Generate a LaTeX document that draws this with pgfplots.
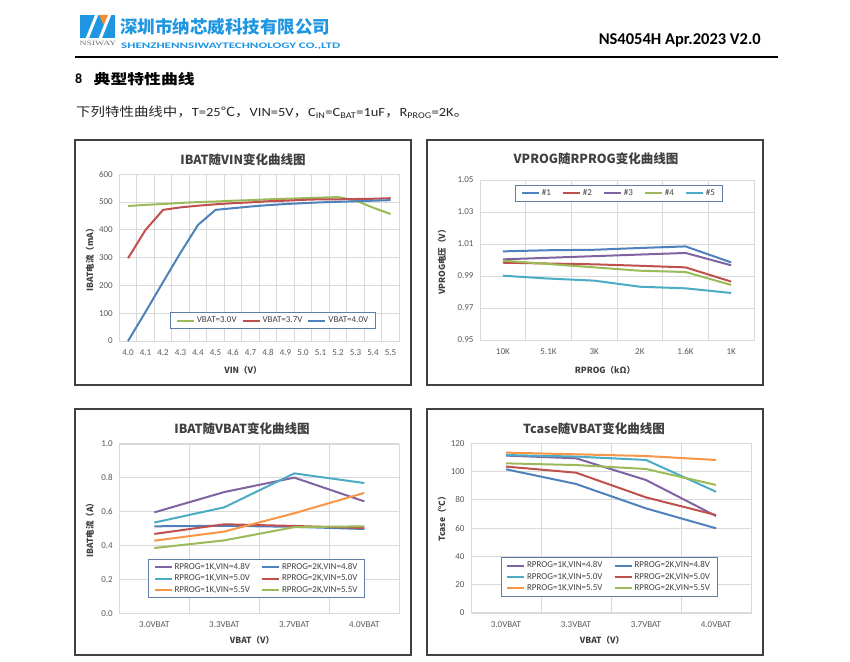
\documentclass[border=0pt]{standalone}
\usepackage{graphicx}
\usepackage{pgfplots}
\pgfplotsset{compat=1.18}
\usepackage{fontspec}
\setmainfont{Carlito}
\newfontfamily\cjk{Noto Sans CJK SC}
\newfontfamily\serif{Liberation Serif}

\definecolor{xblue}{RGB}{79,129,189}
\definecolor{xred}{RGB}{192,80,77}
\definecolor{xgreen}{RGB}{155,187,89}
\definecolor{xpurple}{RGB}{128,100,162}
\definecolor{xcyan}{RGB}{75,172,198}
\definecolor{xorange}{RGB}{247,150,70}
\definecolor{gridc}{RGB}{217,217,217}
\definecolor{txt}{RGB}{89,89,89}
\definecolor{ttl}{RGB}{64,64,64}
\definecolor{logob}{RGB}{30,150,225}
\definecolor{logoo}{RGB}{240,140,50}
\definecolor{legb}{RGB}{95,125,165}

\pgfplotsset{
  xlchart/.style={
    scale only axis,
    axis line style={draw=gridc},
    grid style={draw=gridc, line width=0.8pt},
    ymajorgrids, xminorgrids,
    major tick length=0pt, minor tick length=0pt,
    tick style={draw=none},
    ticklabel style={font=\fontsize{9}{10}\selectfont, text=txt},
    xticklabel style={yshift=-5pt},
    yticklabel style={xshift=-3pt},
    /pgf/number format/assume math mode=true,
    every axis plot/.append style={line width=2pt, mark=none},
    legend style={draw=legb, line width=0.8pt, font=\fontsize{9}{10}\selectfont,
      text=ttl, inner xsep=5pt, inner ysep=2pt,
      /tikz/every even column/.append style={column sep=9pt}},
    legend image code/.code={\draw[#1, line width=2pt] (0pt,0pt) -- (17pt,0pt);},
    legend cell align=left,
  },
}
\tikzset{
  titlef/.style={font=\cjk\bfseries\fontsize{12.5}{13}\selectfont, text=ttl},
  labf/.style={font=\cjk\bfseries\fontsize{8.5}{9}\selectfont, text=ttl},
}

\begin{document}
\begin{tikzpicture}
\path[use as bounding box] (0pt,0pt) rectangle (850pt,-661pt);
\fill[white] (0pt,0pt) rectangle (850pt,-661pt);

% header
\fill[logob] (80pt,-15pt) rectangle (115pt,-38pt);
\fill[logoo] (99pt,-15pt) -- (111pt,-15pt) -- (105pt,-28pt) -- cycle;
\draw[white, line width=3pt] (87pt,-39pt) -- (97pt,-14pt);
\draw[white, line width=3pt] (100pt,-39pt) -- (110pt,-14pt);
\node[anchor=center, inner sep=0pt, text=black!55] at (98pt,-43.5pt)
  {\resizebox{37pt}{\height}{\serif\fontsize{6.5}{7}\selectfont NSIWAY}};
\node[anchor=west, inner sep=0pt, text=logob] at (120pt,-26.5pt)
  {\resizebox{210pt}{\height}{\cjk\bfseries\fontsize{17.5}{18}\selectfont 深圳市纳芯威科技有限公司}};
\node[anchor=west, inner sep=0pt, text=logob] at (121pt,-46.5pt)
  {\resizebox{219pt}{\height}{\bfseries\fontsize{8.5}{9}\selectfont SHENZHENNSIWAYTECHNOLOGY CO.,LTD}};
\node[anchor=east, inner sep=0pt] at (761pt,-40pt)
  {\bfseries\fontsize{16.5}{17}\selectfont NS4054H Apr.2023 V2.0};
\draw[line width=2.2pt] (75pt,-57pt) -- (778pt,-57pt);
\node[anchor=west, inner sep=0pt] at (75pt,-79pt) {\bfseries\fontsize{14}{14}\selectfont 8};
\node[anchor=west, inner sep=0pt] at (93.5pt,-79pt)
  {\resizebox{101pt}{\height}{\cjk\bfseries\fontsize{14}{14}\selectfont 典型特性曲线}};
\node[anchor=west, inner sep=0pt, text=black!85] at (76pt,-112pt)
  {\resizebox{392pt}{\height}{\fontsize{12.5}{13}\selectfont{\cjk 下列特性曲线中，}T=25{\cjk ℃，}VIN=5V{\cjk ，}C\textsubscript{IN}=C\textsubscript{BAT}=1uF{\cjk ，}R\textsubscript{PROG}=2K{\cjk 。}}};

% chart frames
\draw[draw=black!75, line width=1.3pt] (75pt,-140pt) rectangle (411pt,-385pt);
\draw[draw=black!75, line width=1.3pt] (427pt,-140pt) rectangle (763pt,-385pt);
\draw[draw=black!75, line width=1.3pt] (75pt,-409pt) rectangle (411pt,-655pt);
\draw[draw=black!75, line width=1.3pt] (427pt,-409pt) rectangle (763pt,-655pt);

% chart 1
\begin{axis}[xlchart, at={(119.3pt,-341pt)}, anchor=south west,
  width=280pt, height=166.7pt,
  xmin=3.95, xmax=5.55, ymin=0, ymax=600,
  ytick={0,100,200,300,400,500,600},
  xtick={4.0,4.1,4.2,4.3,4.4,4.5,4.6,4.7,4.8,4.9,5.0,5.1,5.2,5.3,5.4,5.5},
  xticklabels={4.0,4.1,4.2,4.3,4.4,4.5,4.6,4.7,4.8,4.9,5.0,5.1,5.2,5.3,5.4,5.5},
  minor xtick={3.95,4.05,4.15,4.25,4.35,4.45,4.55,4.65,4.75,4.85,4.95,5.05,5.15,5.25,5.35,5.45,5.55},
  legend style={at={(0.549,0.123)}, anchor=center, legend columns=3,
    /tikz/every even column/.append style={column sep=3pt}},
]
\addplot[xgreen] table {
x y
4.0 486
4.1 490
4.2 493
4.3 497
4.4 500
4.5 502
4.6 505
4.7 507
4.8 510
4.9 512
5.0 514
5.1 516
5.2 518
5.3 506
5.4 480
5.5 457
};
\addlegendentry{VBAT=3.0V}
\addplot[xred] table {
x y
4.0 298
4.1 400
4.2 472
4.3 481
4.4 487
4.5 492
4.6 496
4.7 499
4.8 503
4.9 505
5.0 508
5.1 510
5.2 510
5.3 511
5.4 512
5.5 514
};
\addlegendentry{VBAT=3.7V}
\addplot[xblue] table {
x y
4.0 0
4.1 105
4.2 212
4.3 318
4.4 418
4.5 472
4.6 478
4.7 484
4.8 489
4.9 493
5.0 496
5.1 499
5.2 501
5.3 503
5.4 505
5.5 507
};
\addlegendentry{VBAT=4.0V}
\end{axis}
\node[titlef] at (243pt,-160pt) {IBAT随VIN变化曲线图};
\node[labf, rotate=90] at (90pt,-258pt) {IBAT电流（mA）};
\node[labf] at (243pt,-370pt) {VIN（V）};

% chart 2
\begin{axis}[xlchart, at={(480pt,-340pt)}, anchor=south west,
  width=274pt, height=160pt,
  xmin=-0.5, xmax=5.5, ymin=0.95, ymax=1.05,
  ytick={0.95,0.97,0.99,1.01,1.03,1.05},
  yticklabel style={/pgf/number format/.cd, fixed, fixed zerofill, precision=2},
  xtick={0,1,2,3,4,5},
  xticklabels={10K,5.1K,3K,2K,1.6K,1K},
  minor xtick={-0.5,0.5,1.5,2.5,3.5,4.5,5.5},
  legend style={at={(0.507,0.916)}, anchor=center, legend columns=5},
]
\addplot[xblue] table {
x y
0 1.0054
1 1.0061
2 1.0064
3 1.0075
4 1.0085
5 0.9985
};
\addlegendentry{\#1}
\addplot[xred] table {
x y
0 0.9983
1 0.9978
2 0.9973
3 0.9964
4 0.9954
5 0.9865
};
\addlegendentry{\#2}
\addplot[xpurple] table {
x y
0 1.0004
1 1.0014
2 1.0024
3 1.0034
4 1.0044
5 0.9967
};
\addlegendentry{\#3}
\addplot[xgreen] table {
x y
0 0.9996
1 0.9975
2 0.9954
3 0.9933
4 0.9925
5 0.9844
};
\addlegendentry{\#4}
\addplot[xcyan] table {
x y
0 0.9902
1 0.9884
2 0.9871
3 0.9833
4 0.9823
5 0.9794
};
\addlegendentry{\#5}
\end{axis}
\node[titlef] at (596pt,-159pt) {VPROG随RPROG变化曲线图};
\node[labf, rotate=90] at (442pt,-260pt) {VPROG电压（V）};
\node[labf] at (605pt,-370pt) {RPROG（kΩ）};

% chart 3
\begin{axis}[xlchart, at={(119.3pt,-613.3pt)}, anchor=south west,
  width=280pt, height=169.6pt,
  xmin=-0.5, xmax=3.5, ymin=0, ymax=1,
  ytick={0,0.2,0.4,0.6,0.8,1.0},
  yticklabel style={/pgf/number format/.cd, fixed, fixed zerofill, precision=1},
  xtick={0,1,2,3},
  xticklabels={3.0VBAT,3.3VBAT,3.7VBAT,4.0VBAT},
  minor xtick={-0.5,0.5,1.5,2.5,3.5},
  legend style={at={(0.49,0.205)}, anchor=center, legend columns=2},
]
\addplot[xpurple] table {
x y
0 0.595
1 0.715
2 0.800
3 0.660
};
\addlegendentry{RPROG=1K,VIN=4.8V}
\addplot[xblue] table {
x y
0 0.513
1 0.516
2 0.510
3 0.497
};
\addlegendentry{RPROG=2K,VIN=4.8V}
\addplot[xcyan] table {
x y
0 0.535
1 0.625
2 0.825
3 0.768
};
\addlegendentry{RPROG=1K,VIN=5.0V}
\addplot[xred] table {
x y
0 0.468
1 0.525
2 0.515
3 0.503
};
\addlegendentry{RPROG=2K,VIN=5.0V}
\addplot[xorange] table {
x y
0 0.428
1 0.482
2 0.590
3 0.710
};
\addlegendentry{RPROG=1K,VIN=5.5V}
\addplot[xgreen] table {
x y
0 0.385
1 0.430
2 0.508
3 0.513
};
\addlegendentry{RPROG=2K,VIN=5.5V}
\end{axis}
\node[titlef] at (242pt,-429pt) {IBAT随VBAT变化曲线图};
\node[labf, rotate=90] at (90pt,-528pt) {IBAT电流（A）};
\node[labf] at (252pt,-640pt) {VBAT（V）};

% chart 4
\begin{axis}[xlchart, at={(471pt,-612.7pt)}, anchor=south west,
  width=280pt, height=169.4pt,
  xmin=-0.5, xmax=3.5, ymin=0, ymax=120,
  ytick={0,20,40,60,80,100,120},
  xtick={0,1,2,3},
  xticklabels={3.0VBAT,3.3VBAT,3.7VBAT,4.0VBAT},
  minor xtick={-0.5,0.5,1.5,2.5,3.5},
  legend style={at={(0.493,0.211)}, anchor=center, legend columns=2},
]
\addplot[xpurple] table {
x y
0 111.3
1 109.4
2 94.0
3 68.5
};
\addlegendentry{RPROG=1K,VIN=4.8V}
\addplot[xblue] table {
x y
0 101.6
1 91.2
2 73.9
3 59.8
};
\addlegendentry{RPROG=2K,VIN=4.8V}
\addplot[xcyan] table {
x y
0 111.7
1 110.6
2 108.2
3 85.7
};
\addlegendentry{RPROG=1K,VIN=5.0V}
\addplot[xred] table {
x y
0 103.5
1 99.2
2 81.7
3 69.2
};
\addlegendentry{RPROG=2K,VIN=5.0V}
\addplot[xorange] table {
x y
0 113.4
1 112.2
2 111.0
3 108.2
};
\addlegendentry{RPROG=1K,VIN=5.5V}
\addplot[xgreen] table {
x y
0 105.8
1 104.6
2 101.8
3 90.5
};
\addlegendentry{RPROG=2K,VIN=5.5V}
\end{axis}
\node[titlef] at (594pt,-429pt) {Tcase随VBAT变化曲线图};
\node[labf, rotate=90] at (442pt,-517pt) {Tcase（℃）};
\node[labf] at (602pt,-640pt) {VBAT（V）};
\end{tikzpicture}
\end{document}
